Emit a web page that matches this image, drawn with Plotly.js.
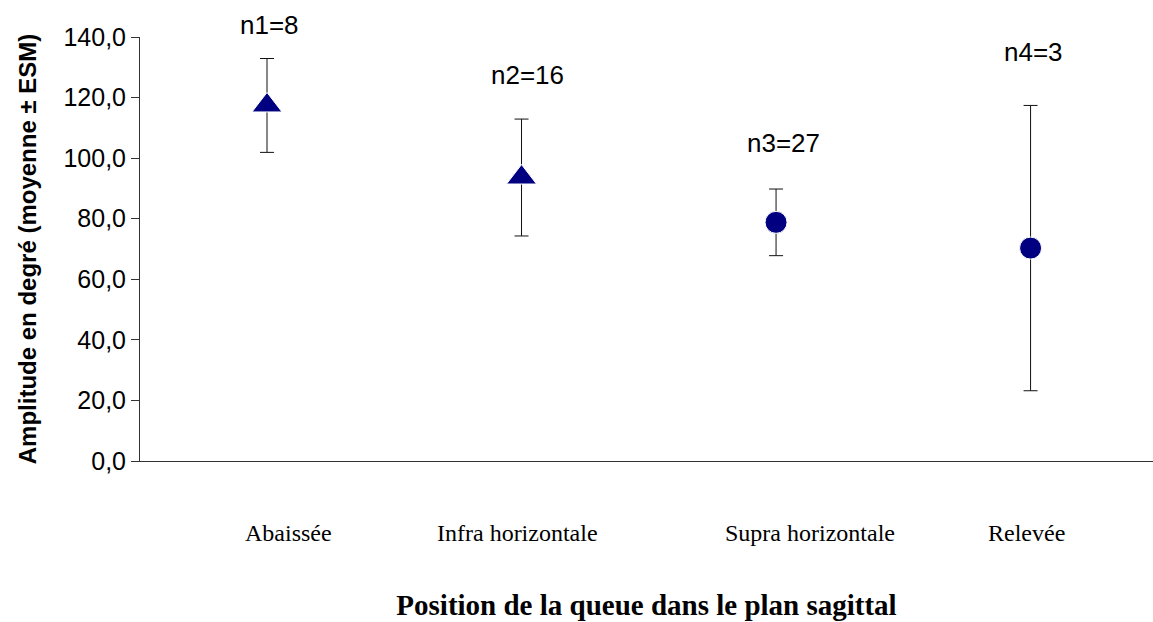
<!DOCTYPE html>
<html>
<head>
<meta charset="utf-8">
<script src="https://cdn.plot.ly/plotly-3.0.1.min.js"></script>
<style>html,body{margin:0;padding:0;background:#fff;}#chart{width:1153px;height:622px;}</style>
</head>
<body>
<div id="chart"></div>
<script>
// Data
const categories = ["Abaissée", "Infra horizontale", "Supra horizontale", "Relevée"];
const meanValues = [117.4, 93.6, 78.8, 70.3];
const semValues = [15.5, 19.3, 11.0, 47.1];
const markerSymbols = ["triangle-up", "triangle-up", "circle", "circle"];
const sampleLabels = ["n1=8", "n2=16", "n3=27", "n4=3"];
const sampleLabelY = [143.8, 127.4, 105.0, 135.0];
const yTicks = [0, 20, 40, 60, 80, 100, 120, 140];

const idx = categories.map((c, i) => i);
const yMax = 140;

const trace = {
  type: "scatter",
  mode: "markers",
  x: idx,
  y: meanValues,
  error_y: {type: "data", array: semValues, visible: true, color: "#111", thickness: 1, width: 7},
  marker: {symbol: markerSymbols, size: [26, 26, 22, 22], color: "#000080", opacity: 1},
  cliponaxis: false,
  hoverinfo: "skip"
};

const catShift = [21, -4, 34, -4];
const nShift = [2, 6, 7, 3];

const annotations = [];
sampleLabels.forEach((t, i) => {
  annotations.push({
    x: idx[i], y: sampleLabelY[i] / yMax, xref: "x", yref: "paper", yanchor: "middle", text: t, showarrow: false,
    xshift: nShift[i], font: {family: "Arial, Liberation Sans, sans-serif", size: 26, color: "#000"}
  });
});
categories.forEach((c, i) => {
  annotations.push({
    x: idx[i], y: 0, xref: "x", yref: "paper", yanchor: "middle", text: c, showarrow: false,
    xshift: catShift[i], yshift: -72,
    font: {family: "Times New Roman, Liberation Serif, serif", size: 24, color: "#000"}
  });
});

const layout = {
  width: 1153, height: 622,
  margin: {l: 140, r: 0, t: 37, b: 161},
  paper_bgcolor: "#fff", plot_bgcolor: "#fff",
  separators: ", ",
  showlegend: false,
  xaxis: {
    range: [-0.499, 3.481], showgrid: false, zeroline: false, showticklabels: false,
    showline: true, linecolor: "#333", linewidth: 1, ticks: "", fixedrange: true,
    title: {text: "Position de la queue dans le plan sagittal", standoff: 133,
      font: {family: "Times New Roman, Liberation Serif, serif", size: 29, color: "#000", weight: "bold"}}
  },
  yaxis: {
    range: [0, yMax], tickvals: yTicks, tickformat: ".1f", showgrid: false, zeroline: false,
    showline: true, linecolor: "#333", linewidth: 1, ticks: "outside", ticklen: 8, tickcolor: "#333",
    tickfont: {family: "Arial, Liberation Sans, sans-serif", size: 25, color: "#000"},
    title: {text: "Amplitude en degré (moyenne ± ESM)", standoff: 20,
      font: {family: "Arial, Liberation Sans, sans-serif", size: 24, color: "#000", weight: "bold"}}
  },
  annotations: annotations
};

Plotly.newPlot("chart", [trace], layout, {staticPlot: true, displayModeBar: false});
</script>
</body>
</html>
